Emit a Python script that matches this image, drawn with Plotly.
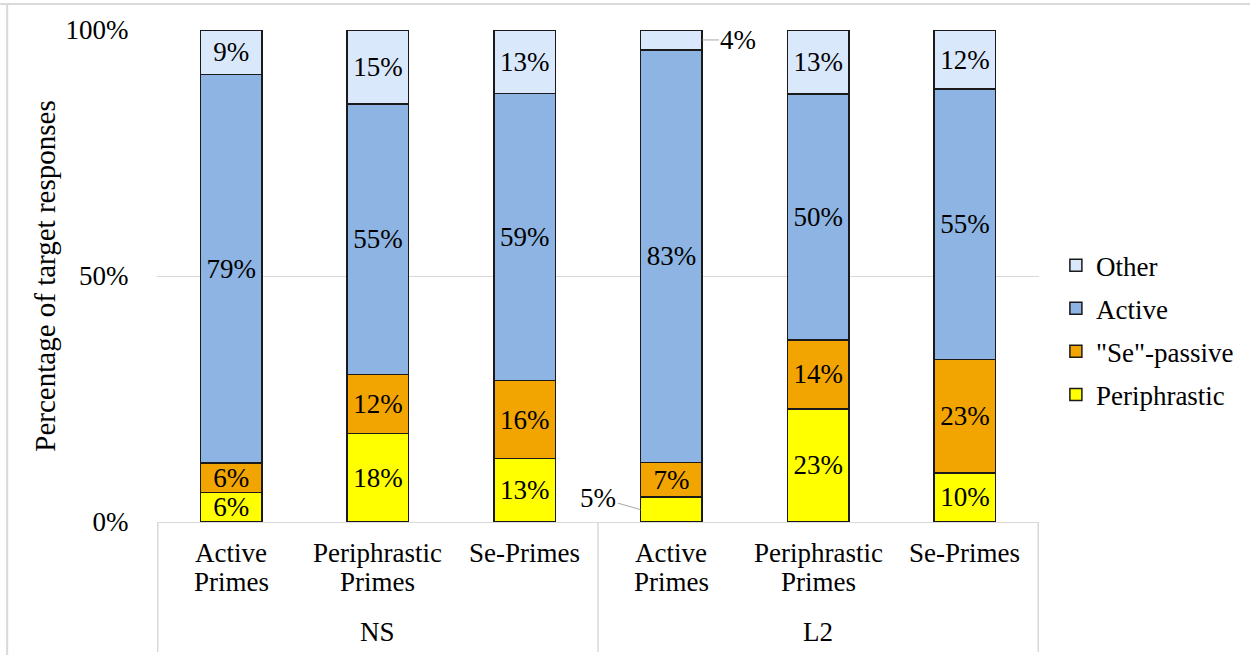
import plotly.graph_objects as go

# Grouping: speaker group (outer) and prime condition (inner)
groups = ["NS", "NS", "NS", "L2", "L2", "L2"]
conditions = ["Active<br>Primes", "Periphrastic<br>Primes", "Se-Primes",
              "Active<br>Primes", "Periphrastic<br>Primes", "Se-Primes"]

# Response percentages per condition
periphrastic = [6, 18, 13, 5, 23, 10]
se_passive = [6, 12, 16, 7, 14, 23]
active = [79, 55, 59, 83, 50, 55]
other = [9, 15, 13, 4, 13, 12]

y_ticks = [0, 50, 100]
y_tick_labels = ["0%", "50%", "100%"]

series = [
    ("Periphrastic", periphrastic, "#FFFF00"),
    ('"Se"-passive', se_passive, "#F2A400"),
    ("Active", active, "#8DB4E2"),
    ("Other", other, "#DAE8FC"),
]

# Segments too thin for an inside label get a callout instead
callouts = {("Other", 3): (36, 0), ("Periphrastic", 3): (-42, -12)}

FONT = "Liberation Serif"
SIZE = 27
GRID = "#d9d9d9"
PLOT_H = 492  # plot-area height in px, used to place axis text below it

fig = go.Figure()

for k, (name, vals, color) in enumerate(series):
    labels = []
    for i, v in enumerate(vals):
        labels.append("" if (name, i) in callouts else f"{v}%")
    fig.add_trace(go.Bar(
        name=name,
        x=[groups, conditions],
        y=vals,
        marker=dict(color=color, line=dict(color="#1a1a1a", width=1.5)),
        text=labels,
        textposition="inside",
        insidetextanchor="middle",
        textangle=0,
        constraintext="none",
        textfont=dict(family=FONT, size=SIZE, color="black"),
        legendgroup=name,
        legendrank=len(series) - k,
        hoverinfo="skip",
    ))

fig.update_layout(
    barmode="stack",
    barnorm="percent",
    bargap=0.58,
    width=1250,
    height=655,
    margin=dict(l=157, r=210, t=30, b=133),
    paper_bgcolor="white",
    plot_bgcolor="white",
    font=dict(family=FONT, size=SIZE, color="black"),
    legend=dict(
        traceorder="grouped",
        tracegroupgap=5,
        x=1.018, xanchor="left",
        y=0.39, yanchor="middle",
        font=dict(family=FONT, size=SIZE),
        itemwidth=30,
    ),
    showlegend=True,
)

fig.update_yaxes(
    range=[0, 100],
    tickvals=y_ticks,
    ticktext=y_tick_labels,
    showgrid=True,
    gridcolor=GRID,
    gridwidth=1,
    zeroline=False,
    showline=False,
    ticks="outside",
    ticklen=22,
    tickcolor="rgba(0,0,0,0)",
    tickfont=dict(family=FONT, size=SIZE),
    title=dict(text="Percentage of target responses",
               font=dict(family=FONT, size=29), standoff=1),
)

# Category axis: labels are drawn as annotations below for tighter line spacing
fig.update_xaxes(
    type="multicategory",
    showline=True,
    linecolor=GRID,
    linewidth=1,
    showticklabels=False,
    showdividers=False,
    ticks="",
)


def below_axis(px):
    """Paper y for a point px pixels under the plot area's bottom edge."""
    return -px / PLOT_H


# Inner (condition) labels, one annotation per line
for i, cond in enumerate(conditions):
    for j, line in enumerate(cond.split("<br>")):
        fig.add_annotation(
            x=i, xref="x", y=below_axis(31 + 29 * j), yref="paper",
            text=line, showarrow=False, yanchor="middle",
            font=dict(family=FONT, size=SIZE, color="black"),
        )

# Outer (group) labels and dividers between groups
group_names = list(dict.fromkeys(groups))
start = 0
for g in group_names:
    n = groups.count(g)
    fig.add_annotation(
        x=start + (n - 1) / 2, xref="x", y=below_axis(110), yref="paper",
        text=g, showarrow=False, yanchor="middle",
        font=dict(family=FONT, size=SIZE, color="black"),
    )
    start += n
edges = [-0.5]
for g in group_names:
    edges.append(edges[-1] + groups.count(g))
for e in edges:
    fig.add_shape(type="line", xref="x", yref="paper",
                  x0=e, x1=e, y0=0, y1=below_axis(130),
                  line=dict(color=GRID, width=1.5))

# Callout labels with leader lines for the thin segments
names = [s[0] for s in series]
vals_by_name = {n: v for n, v, _ in series}
for (name, idx), (ax, ay) in callouts.items():
    lower = sum(vals_by_name[n][idx] for n in names[:names.index(name)])
    total = sum(vals_by_name[n][idx] for n in names)
    mid = (lower + vals_by_name[name][idx] / 2) / total * 100
    fig.add_annotation(
        x=idx, y=mid, xref="x", yref="y",
        xshift=31 if ax > 0 else -31,
        text=f"{vals_by_name[name][idx]}%",
        showarrow=True, arrowhead=0, arrowwidth=1, arrowcolor="#a6a6a6",
        ax=ax, ay=ay, standoff=0, startstandoff=0,
        font=dict(family=FONT, size=SIZE, color="black"),
    )

# Thin frame lines along the top and left edges of the page
fig.add_shape(type="line", xref="paper", yref="paper",
              x0=-157 / 883, x1=1.3, y0=1 + 26 / PLOT_H, y1=1 + 26 / PLOT_H,
              line=dict(color=GRID, width=2))
fig.add_shape(type="line", xref="paper", yref="paper",
              x0=-150 / 883, x1=-150 / 883, y0=1 + 26 / PLOT_H, y1=-0.3,
              line=dict(color=GRID, width=2))

fig.write_html("out.html")
